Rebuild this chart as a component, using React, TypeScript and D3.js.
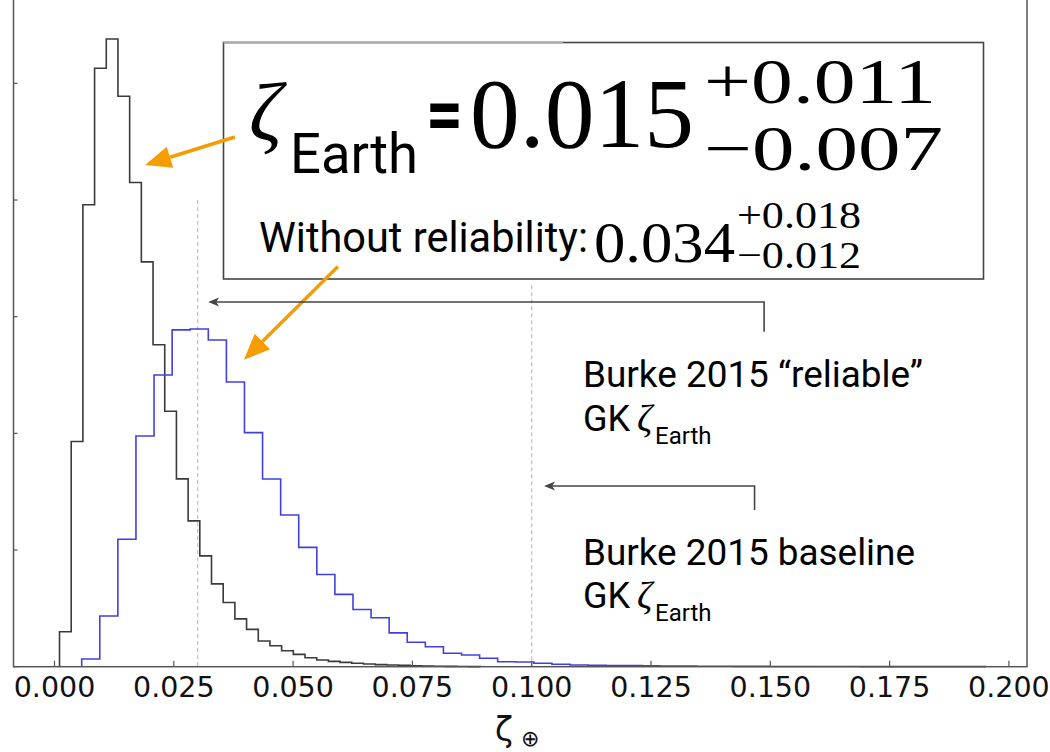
import React from "react";
import * as d3 from "d3";

// ---- data ----
const blackBinStart = 0.00105;
const blackBinWidth = 0.00245;
const blackCounts = [0.30, 1.93, 3.96, 5.13, 5.38, 4.89, 4.15, 3.47, 2.76, 2.19, 1.61, 1.25, 0.95, 0.71, 0.55, 0.41, 0.32, 0.22, 0.18, 0.137, 0.106, 0.077, 0.057, 0.046, 0.037, 0.029, 0.023, 0.018, 0.014, 0.011, 0.008, 0.006, 0.004, 0.003, 0.002, 0.001];

const blueBinStart = 0.0057;
const blueBinWidth = 0.00379;
const blueCounts = [0.066, 0.435, 1.092, 1.977, 2.50, 2.887, 2.895, 2.80, 2.44, 2.006, 1.609, 1.30, 1.023, 0.79, 0.62, 0.49, 0.42, 0.29, 0.21, 0.171, 0.115, 0.10, 0.072, 0.043, 0.040, 0.029, 0.021, 0.015, 0.012, 0.010, 0.009, 0.007, 0.006, 0.005, 0.004, 0.004, 0.003, 0.003, 0.002, 0.002, 0.002, 0.0015, 0.0015, 0.001, 0.001, 0.001, 0.001, 0.0008, 0.0008, 0.0005];

const xTicks = [0, 0.025, 0.05, 0.075, 0.1, 0.125, 0.15, 0.175, 0.2];
const yTicks = [0, 1, 2, 3, 4, 5];
const refLines = [
  { x: 0.030, top: 4.0 },
  { x: 0.100, top: 3.27 },
];

const W = 1050;
const H = 752;

export default function App() {
  const x = d3.scaleLinear().domain([0, 0.2]).range([54.5, 1008.9]);
  const y = d3.scaleLinear().domain([0, 5]).range([666.7, 83.35]);
  const frameL = 13.5, frameR = 1027, frameB = 666.7, frameT = -10;

  const stepPts = (start: number, w: number, counts: number[]) => {
    const pts: [number, number][] = [[start, 0]];
    counts.forEach((c, i) => {
      pts.push([start + i * w, c]);
      pts.push([start + (i + 1) * w, c]);
    });
    pts.push([start + counts.length * w, 0]);
    return pts;
  };
  const line = d3.line<[number, number]>().x(d => x(d[0])).y(d => y(d[1]));
  const blackPath = line(stepPts(blackBinStart, blackBinWidth, blackCounts)) || "";
  const bluePath = line(stepPts(blueBinStart, blueBinWidth, blueCounts)) || "";

  const orange = "#f59d00";
  const orangeArrow = (tail: [number, number], tip: [number, number], key: string) => {
    const tx = x(tail[0]), ty = y(tail[1]), px = x(tip[0]), py = y(tip[1]);
    const ang = Math.atan2(py - ty, px - tx);
    const L = 26, Wd = 11;
    const bx = px - L * Math.cos(ang), by = py - L * Math.sin(ang);
    const nx = -Math.sin(ang), ny = Math.cos(ang);
    return (
      <g key={key}>
        <line x1={tx} y1={ty} x2={bx} y2={by} stroke={orange} strokeWidth={3.5} />
        <polygon points={`${px},${py} ${bx + nx * Wd},${by + ny * Wd} ${bx - nx * Wd},${by - ny * Wd}`} fill={orange} />
      </g>
    );
  };

  const blackArrow = (xs: number, yBottom: number, yTop: number, xEnd: number, key: string) => {
    const X = x(xs), Y1 = y(yBottom), Y2 = y(yTop), XE = x(xEnd);
    return (
      <g key={key}>
        <polyline points={`${X},${Y1} ${X},${Y2} ${XE + 2},${Y2}`} fill="none" stroke="#444" strokeWidth={1.6} />
        <polygon points={`${XE},${Y2} ${XE + 11},${Y2 - 4.5} ${XE + 8},${Y2} ${XE + 11},${Y2 + 4.5}`} fill="#444" />
      </g>
    );
  };

  const serif = "'Liberation Serif', 'DejaVu Serif', serif";
  const sans = "Roboto, 'Liberation Sans', sans-serif";

  return (
    <svg width={W} height={H} style={{ position: "absolute", left: 0, top: 0, background: "#fff" }}>
      <rect x={0} y={0} width={W} height={H} fill="#fff" />
      {/* reference dashed lines */}
      {refLines.map((r, i) => (
        <line key={i} x1={x(r.x)} x2={x(r.x)} y1={y(r.top)} y2={y(0)} stroke="#c4c4c4" strokeWidth={1.3} strokeDasharray="4,3" />
      ))}
      {/* histograms */}
      <path d={blackPath} fill="none" stroke="#3a3a3a" strokeWidth={1.6} />
      <path d={bluePath} fill="none" stroke="#4040e0" strokeWidth={1.6} />

      {/* frame */}
      <rect x={frameL} y={frameT} width={frameR - frameL} height={frameB - frameT} fill="none" stroke="#555" strokeWidth={1.5} />
      {xTicks.map((t, i) => (
        <g key={i}>
          <line x1={x(t)} x2={x(t)} y1={frameB} y2={frameB - 6} stroke="#555" strokeWidth={1.2} />
          <text x={x(t)} y={697} textAnchor="middle" fontFamily="'DejaVu Sans', sans-serif" fontSize={28.5} fill="#111">
            {d3.format(".3f")(t)}
          </text>
        </g>
      ))}
      {yTicks.map((t, i) => (
        <line key={i} x1={frameL} x2={frameL + 4} y1={y(t)} y2={y(t)} stroke="#555" strokeWidth={1.2} />
      ))}
      <text x={495} y={741} fontFamily="'DejaVu Sans', sans-serif" fontSize={33} fill="#111">ζ</text>
      <text x={521} y={746} fontFamily="'DejaVu Sans', sans-serif" fontSize={22} fill="#111">⊕</text>

      {/* main annotation box */}
      <rect x={223.5} y={42.5} width={760} height={236.5} fill="#fff" stroke="#444" strokeWidth={1.6} />
      <line x1={223.5} x2={563} y1={42.5} y2={42.5} stroke="#aaa" strokeWidth={1.8} />
      <text x={249} y={140} fontFamily={serif} fontStyle="italic" fontSize={82} fill="#000">ζ</text>
      <text x={290} y={173} fontFamily={sans} fontSize={56} fill="#000" textLength={128} lengthAdjust="spacingAndGlyphs">Earth</text>
      <text x={426} y={140} fontFamily={sans} fontWeight="bold" fontSize={76} fill="#000" textLength={37} lengthAdjust="spacingAndGlyphs">=</text>
      <text x={470} y={147} fontFamily={serif} fontSize={100} fill="#000" textLength={224} lengthAdjust="spacingAndGlyphs">0.015</text>
      <text x={704} y={103} fontFamily={serif} fontSize={64} fill="#000" textLength={232} lengthAdjust="spacingAndGlyphs">+0.011</text>
      <text x={704} y={170} fontFamily={serif} fontSize={64} fill="#000" textLength={239} lengthAdjust="spacingAndGlyphs">−0.007</text>
      <text x={259} y={252} fontFamily={sans} fontSize={42} fill="#000" textLength={329} lengthAdjust="spacingAndGlyphs">Without reliability:</text>
      <text x={594} y={262} fontFamily={serif} fontSize={56} fill="#000" textLength={141} lengthAdjust="spacingAndGlyphs">0.034</text>
      <text x={737} y={228} fontFamily={serif} fontSize={38} fill="#000" textLength={124} lengthAdjust="spacingAndGlyphs">+0.018</text>
      <text x={737} y={268} fontFamily={serif} fontSize={38} fill="#000" textLength={124} lengthAdjust="spacingAndGlyphs">−0.012</text>

      {/* orange arrows */}
      {orangeArrow([0.0378, 4.54], [0.019, 4.30], "o1")}
      {orangeArrow([0.0594, 3.43], [0.0397, 2.63], "o2")}

      {/* black arrows */}
      {blackArrow(0.1487, 2.87, 3.126, 0.0322, "b1")}
      {blackArrow(0.1467, 1.343, 1.549, 0.1026, "b2")}

      {/* right annotations */}
      <text x={583} y={387} fontFamily={sans} fontSize={36} fill="#000" textLength={340} lengthAdjust="spacingAndGlyphs">Burke 2015 “reliable”</text>
      <text x={583} y={431} fontFamily={sans} fontSize={36} fill="#000">GK</text>
      <text x={637} y={431} fontFamily={serif} fontStyle="italic" fontSize={38} fill="#000">ζ</text>
      <text x={655} y={444} fontFamily={sans} fontSize={24} fill="#000">Earth</text>

      <text x={583} y={565} fontFamily={sans} fontSize={36} fill="#000" textLength={332} lengthAdjust="spacingAndGlyphs">Burke 2015 baseline</text>
      <text x={583} y={608} fontFamily={sans} fontSize={36} fill="#000">GK</text>
      <text x={637} y={608} fontFamily={serif} fontStyle="italic" fontSize={38} fill="#000">ζ</text>
      <text x={655} y={621} fontFamily={sans} fontSize={24} fill="#000">Earth</text>
    </svg>
  );
}
